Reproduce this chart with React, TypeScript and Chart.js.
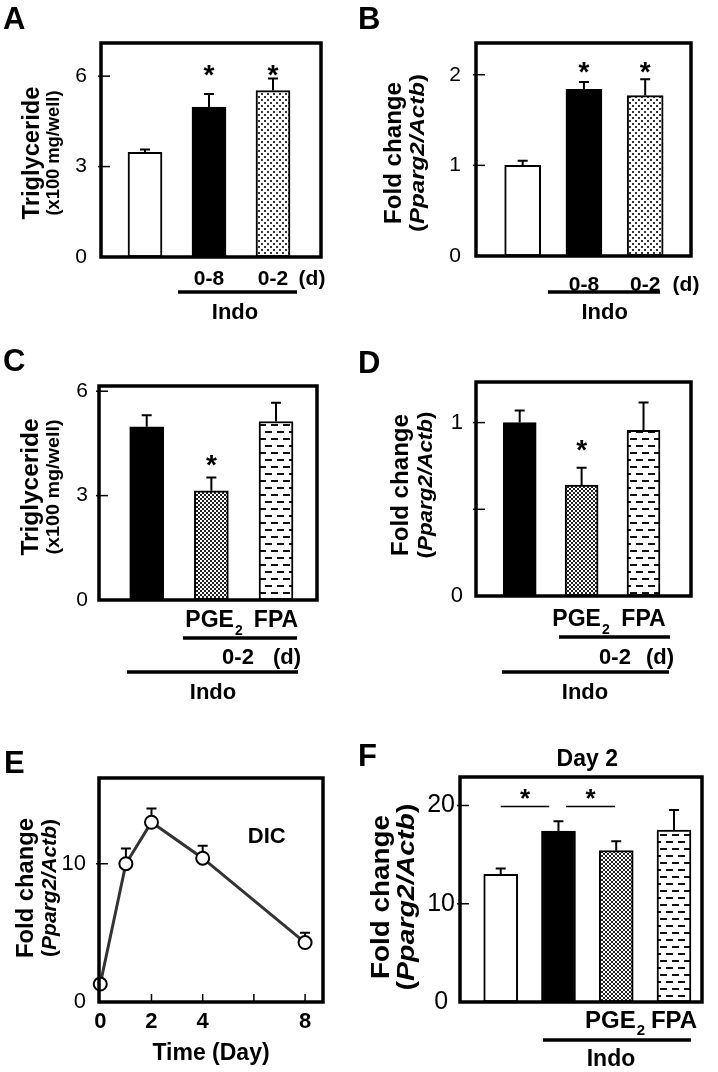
import React, { useEffect, useRef } from 'react';
import { Chart, registerables } from 'chart.js';

Chart.register(...registerables);

const FONT = "'Liberation Sans', Arial, Helvetica, sans-serif";

type Fill = 'white' | 'black' | 'dots' | 'checker' | 'dashes';

// ---------- Panel A: triglyceride, Indo 0-8 / 0-2 ----------
const catsA = ['', '0-8', '0-2'];
const valsA = [3.47, 4.97, 5.52];
const errsA = [0.1, 0.44, 0.4];
const starsA: (number | null)[] = [null, 6.27, 6.27];
const fillsA: Fill[] = ['white', 'black', 'dots'];
const yTicksA = [0, 3, 6];
const yLabelsA = ['0', '3', '6'];

// ---------- Panel B: Pparg2 fold change, Indo 0-8 / 0-2 ----------
const catsB = ['', '0-8', '0-2'];
const valsB = [1.0, 1.84, 1.77];
const errsB = [0.05, 0.08, 0.18];
const starsB: (number | null)[] = [null, 2.11, 2.11];
const fillsB: Fill[] = ['white', 'black', 'dots'];
const yTicksB = [0, 1, 2];
const yLabelsB = ['0', '1', '2'];

// ---------- Panel C: triglyceride, Indo + PGE2 / FPA ----------
const catsC = ['', '', 'FPA'];
const valsC = [4.98, 3.14, 5.13];
const errsC = [0.33, 0.38, 0.54];
const starsC: (number | null)[] = [null, 4.08, null];
const fillsC: Fill[] = ['black', 'checker', 'dashes'];
const yTicksC = [0, 3, 6];
const yLabelsC = ['0', '3', '6'];

// ---------- Panel D: Pparg2 fold change, Indo + PGE2 / FPA ----------
const catsD = ['', '', 'FPA'];
const valsD = [1.0, 0.64, 0.956];
const errsD = [0.07, 0.1, 0.16];
const starsD: (number | null)[] = [null, 0.88, null];
const fillsD: Fill[] = ['black', 'checker', 'dashes'];
const yTicksD = [0, 0.5, 1];
const yLabelsD = ['0', '', '1'];

// ---------- Panel E: DIC time course ----------
const daysE = [0, 1, 2, 4, 8];
const valsE = [1.3, 10.0, 13.0, 10.4, 4.3];
const errsE = [0, 1.1, 1.0, 0.9, 0.7];
const xTicksE = [0, 2, 4, 6, 8];
const xLabelsE = ['0', '2', '4', '', '8'];
const yTicksE = [0, 10];
const yLabelsE = ['0', '10'];

// ---------- Panel F: Day 2 ----------
const catsF = ['', '', '', 'FPA'];
const valsF = [13.0, 17.4, 15.4, 17.5];
const errsF = [0.6, 1.0, 0.95, 2.05];
const fillsF: Fill[] = ['white', 'black', 'checker', 'dashes'];
const yTicksF = [0, 10, 20];
const yLabelsF = ['0', '10', '20'];
const bracketsF = [
  { from: 0, to: 0.84, y: 19.9, star: 21.4 },
  { from: 1.13, to: 1.98, y: 19.9, star: 21.4 },
];

type Seg = { t: string; it?: boolean };
type TextItem = { t: string; x: number; y: number; size: number; sub?: string };
type LineItem = { x1: number; x2: number; y: number; w: number };
type YTitle = { l1: Seg[]; l2: Seg[]; x1: number; x2: number; cy: number; s1: number; s2: number; len1: number; len2: number };

interface Panel {
  kind: 'bar' | 'line';
  letter: string; letterX: number; letterY: number;
  ox: number; oy: number; w: number; h: number;
  L: number; T: number; R: number; B: number;
  xs: number[]; vals: number[]; errs: number[];
  xTicks: number[]; xLabels: string[];
  xMin: number; xMax: number; yMax: number;
  yTicks: number[]; yLabels: string[];
  fills?: Fill[]; barWidth?: number;
  stars?: (number | null)[]; starSize?: number;
  brackets?: { from: number; to: number; y: number; star: number }[];
  yFont: number; yPad: number; yCross: 'near' | 'center';
  xFont: number; xPad: number;
  xInward?: boolean;
  title: YTitle;
  texts: TextItem[]; lines: LineItem[];
  xTitle?: { text: string; size: number; pad: number };
}

const trig1: Seg[] = [{ t: 'Triglyceride' }];
const trig2: Seg[] = [{ t: '(x100 mg/well)' }];
const fold1: Seg[] = [{ t: 'Fold change' }];
const fold2: Seg[] = [{ t: '(' }, { t: 'Pparg2/Actb', it: true }, { t: ')' }];

const idx = (a: unknown[]) => a.map((_, i) => i);

const panels: Panel[] = [
  {
    kind: 'bar', letter: 'A', letterX: 3, letterY: 29,
    ox: 0, oy: 0, w: 359, h: 330, L: 101, T: 43, R: 321, B: 257,
    xs: idx(catsA), vals: valsA, errs: errsA, xTicks: idx(catsA), xLabels: catsA,
    xMin: -0.6875, xMax: 2.75, yMax: 7.1, yTicks: yTicksA, yLabels: yLabelsA,
    fills: fillsA, barWidth: 34, stars: starsA, starSize: 28,
    yFont: 21, yPad: 14, yCross: 'near', xFont: 21, xPad: 9.5,
    title: { l1: trig1, l2: trig2, x1: 33, x2: 54, cy: 153, s1: 23, s2: 19, len1: 133, len2: 125 },
    texts: [{ t: '(d)', x: 312, y: 279, size: 21 }, { t: 'Indo', x: 235, y: 313, size: 22 }],
    lines: [{ x1: 178, x2: 297, y: 292, w: 3.5 }],
  },
  {
    kind: 'bar', letter: 'B', letterX: 358, letterY: 29,
    ox: 359, oy: 0, w: 359, h: 330, L: 476, T: 43, R: 691, B: 256,
    xs: idx(catsB), vals: valsB, errs: errsB, xTicks: idx(catsB), xLabels: catsB,
    xMin: -0.762, xMax: 2.748, yMax: 2.35, yTicks: yTicksB, yLabels: yLabelsB,
    fills: fillsB, barWidth: 36, stars: starsB, starSize: 28,
    yFont: 21, yPad: 15, yCross: 'near', xFont: 21, xPad: 16.5,
    title: { l1: fold1, l2: fold2, x1: 395, x2: 418, cy: 153, s1: 23, s2: 21, len1: 142, len2: 158 },
    texts: [{ t: '(d)', x: 686, y: 285, size: 21 }, { t: 'Indo', x: 604.7, y: 313, size: 22 }],
    lines: [{ x1: 548, x2: 660, y: 292, w: 3.5 }],
  },
  {
    kind: 'bar', letter: 'C', letterX: 3, letterY: 371,
    ox: 0, oy: 330, w: 359, h: 375, L: 99, T: 386, R: 317, B: 600,
    xs: idx(catsC), vals: valsC, errs: errsC, xTicks: idx(catsC), xLabels: catsC,
    xMin: -0.738, xMax: 2.634, yMax: 6.15, yTicks: yTicksC, yLabels: yLabelsC,
    fills: fillsC, barWidth: 34, stars: starsC, starSize: 28,
    yFont: 21, yPad: 11, yCross: 'near', xFont: 23, xPad: 7.2,
    title: { l1: trig1, l2: trig2, x1: 32, x2: 54, cy: 487, s1: 23, s2: 19, len1: 137, len2: 135 },
    texts: [
      { t: 'PGE', sub: '2', x: 214, y: 621, size: 23 },
      { t: '0-2', x: 238, y: 658, size: 22 }, { t: '(d)', x: 287, y: 658, size: 22 },
      { t: 'Indo', x: 213, y: 693, size: 22 },
    ],
    lines: [{ x1: 183, x2: 297, y: 638, w: 3.5 }, { x1: 127, x2: 298, y: 672, w: 3.5 }],
  },
  {
    kind: 'bar', letter: 'D', letterX: 358, letterY: 373,
    ox: 359, oy: 330, w: 359, h: 375, L: 476, T: 382, R: 691, B: 596,
    xs: idx(catsD), vals: valsD, errs: errsD, xTicks: idx(catsD), xLabels: catsD,
    xMin: -0.706, xMax: 2.767, yMax: 1.234, yTicks: yTicksD, yLabels: yLabelsD,
    fills: fillsD, barWidth: 33, stars: starsD, starSize: 28,
    yFont: 22, yPad: 13, yCross: 'near', xFont: 23, xPad: 10.2,
    title: { l1: fold1, l2: fold2, x1: 402, x2: 426, cy: 485, s1: 23, s2: 21, len1: 142, len2: 147 },
    texts: [
      { t: 'PGE', sub: '2', x: 581, y: 620, size: 23 },
      { t: '0-2', x: 615, y: 658, size: 22 }, { t: '(d)', x: 660, y: 658, size: 22 },
      { t: 'Indo', x: 585, y: 693, size: 22 },
    ],
    lines: [{ x1: 559, x2: 670, y: 637, w: 3.5 }, { x1: 502, x2: 669, y: 672, w: 3.5 }],
  },
  {
    kind: 'line', letter: 'E', letterX: 4, letterY: 773,
    ox: 0, oy: 705, w: 359, h: 367, L: 99, T: 778, R: 323, B: 1002,
    xs: daysE, vals: valsE, errs: errsE, xTicks: xTicksE, xLabels: xLabelsE,
    xMin: -0.05, xMax: 8.7, yMax: 16.2, yTicks: yTicksE, yLabels: yLabelsE,
    yFont: 22, yPad: 13, yCross: 'near', xFont: 22, xPad: 6.5, xInward: true,
    title: { l1: fold1, l2: fold2, x1: 27, x2: 50, cy: 888, s1: 23, s2: 21, len1: 140, len2: 138 },
    texts: [{ t: 'DIC', x: 266.7, y: 836.7, size: 22 }],
    lines: [],
    xTitle: { text: 'Time (Day)', size: 23, pad: 5 },
  },
  {
    kind: 'bar', letter: 'F', letterX: 358, letterY: 766,
    ox: 359, oy: 705, w: 359, h: 367, L: 460, T: 777, R: 702, B: 1002,
    xs: idx(catsF), vals: valsF, errs: errsF, xTicks: idx(catsF), xLabels: catsF,
    xMin: -0.705, xMax: 3.485, yMax: 22.9, yTicks: yTicksF, yLabels: yLabelsF,
    fills: fillsF, barWidth: 34, brackets: bracketsF, starSize: 26,
    yFont: 25, yPad: 5, yCross: 'center', xFont: 24, xPad: 4.6,
    title: { l1: fold1, l2: fold2, x1: 382, x2: 408, cy: 897, s1: 26, s2: 23, len1: 164, len2: 187 },
    texts: [
      { t: 'Day 2', x: 587.3, y: 760, size: 23 },
      { t: 'PGE', sub: '2', x: 615, y: 1021, size: 24 },
      { t: 'Indo', x: 611, y: 1060, size: 23 },
    ],
    lines: [{ x1: 543, x2: 691, y: 1040, w: 3.5 }],
  },
];

function makePattern(w: number, h: number, draw: (g: CanvasRenderingContext2D) => void): CanvasPattern {
  const c = document.createElement('canvas');
  c.width = w;
  c.height = h;
  const g = c.getContext('2d')!;
  g.fillStyle = '#fff';
  g.fillRect(0, 0, w, h);
  draw(g);
  return g.createPattern(c, 'repeat')!;
}

let patternCache: Record<string, CanvasPattern> | null = null;
function fillOf(f: Fill): string | CanvasPattern {
  if (f === 'white') return '#ffffff';
  if (f === 'black') return '#000000';
  if (!patternCache) {
    patternCache = {
      dots: makePattern(6, 6, (g) => {
        g.fillStyle = '#333';
        g.fillRect(0, 0, 2, 2);
        g.fillRect(3, 3, 2, 2);
      }),
      checker: makePattern(4, 4, (g) => {
        g.fillStyle = '#222';
        g.fillRect(0, 0, 2, 2);
        g.fillRect(2, 2, 2, 2);
      }),
      dashes: makePattern(12, 14, (g) => {
        g.fillStyle = '#111';
        g.fillRect(1, 3, 7, 2);
        g.fillRect(7, 10, 5, 2);
        g.fillRect(0, 10, 2, 2);
      }),
    };
  }
  return patternCache[f];
}

function drawRotTitle(ctx: CanvasRenderingContext2D, segs: Seg[], cx: number, cy: number, size: number, len: number) {
  ctx.save();
  ctx.translate(cx, cy);
  ctx.rotate(-Math.PI / 2);
  const fonts = segs.map((s) => `${s.it ? 'italic ' : ''}bold ${size}px ${FONT}`);
  const widths = segs.map((s, i) => {
    ctx.font = fonts[i];
    return ctx.measureText(s.t).width;
  });
  const total = widths.reduce((a, b) => a + b, 0);
  ctx.scale(len / total, 1);
  ctx.fillStyle = '#000';
  ctx.textBaseline = 'middle';
  ctx.textAlign = 'left';
  let x = -total / 2;
  segs.forEach((s, i) => {
    ctx.font = fonts[i];
    ctx.fillText(s.t, x, 0);
    x += widths[i];
  });
  ctx.restore();
}

function drawText(ctx: CanvasRenderingContext2D, t: TextItem, ox: number, oy: number) {
  ctx.textBaseline = 'middle';
  ctx.textAlign = 'left';
  const mainFont = `bold ${t.size}px ${FONT}`;
  const subSize = Math.round(t.size * 0.62);
  const subFont = `bold ${subSize}px ${FONT}`;
  ctx.font = mainFont;
  const w1 = ctx.measureText(t.t).width;
  let w2 = 0;
  if (t.sub) {
    ctx.font = subFont;
    w2 = ctx.measureText(t.sub).width + 1;
  }
  const x0 = t.x - ox - (w1 + w2) / 2;
  ctx.font = mainFont;
  ctx.fillText(t.t, x0, t.y - oy);
  if (t.sub) {
    ctx.font = subFont;
    ctx.fillText(t.sub, x0 + w1 + 1, t.y - oy + t.size * 0.42);
  }
}

function decorPlugin(p: Panel) {
  return {
    id: 'decor' + p.letter,
    beforeDatasetsDraw(chart: Chart) {
      const ctx = chart.ctx;
      const ys = chart.scales.y;
      const meta = chart.getDatasetMeta(0);
      ctx.save();
      ctx.strokeStyle = '#000';
      ctx.lineWidth = 2;
      meta.data.forEach((el: any, i: number) => {
        const e = p.errs[i];
        if (!e) return;
        const base = ys.getPixelForValue(p.vals[i]);
        const top = ys.getPixelForValue(p.vals[i] + e);
        ctx.beginPath();
        ctx.moveTo(el.x, base);
        ctx.lineTo(el.x, top);
        ctx.moveTo(el.x - 5, top);
        ctx.lineTo(el.x + 5, top);
        ctx.stroke();
      });
      ctx.restore();
    },
    afterDraw(chart: Chart) {
      const ctx = chart.ctx;
      const xs = chart.scales.x;
      const ys = chart.scales.y;
      const a = chart.chartArea;
      const ox = p.ox;
      const oy = p.oy;
      ctx.save();
      ctx.strokeStyle = '#000';
      ctx.fillStyle = '#000';
      ctx.lineWidth = 3.5;
      ctx.strokeRect(a.left, a.top, a.right - a.left, a.bottom - a.top);
      ctx.lineWidth = 1.5;
      p.yTicks.forEach((v) => {
        if (v === 0) return;
        const y = ys.getPixelForValue(v);
        ctx.beginPath();
        ctx.moveTo(a.left - 3, y);
        ctx.lineTo(a.left + 9, y);
        ctx.stroke();
      });
      if (p.xInward) {
        p.xTicks.forEach((v) => {
          if (v === 0) return;
          const x = xs.getPixelForValue(v);
          ctx.beginPath();
          ctx.moveTo(x, a.bottom);
          ctx.lineTo(x, a.bottom - 8);
          ctx.stroke();
        });
      }
      const meta = chart.getDatasetMeta(0);
      if (p.stars) {
        const sz = p.starSize || 26;
        ctx.font = `bold ${sz}px ${FONT}`;
        ctx.textAlign = 'center';
        ctx.textBaseline = 'alphabetic';
        p.stars.forEach((s, i) => {
          if (s == null) return;
          const el: any = meta.data[i];
          ctx.fillText('*', el.x, ys.getPixelForValue(s) + sz * 0.57);
        });
      }
      if (p.brackets) {
        const sz = p.starSize || 24;
        p.brackets.forEach((b) => {
          const x1 = xs.getPixelForValue(b.from);
          const x2 = xs.getPixelForValue(b.to);
          const y = ys.getPixelForValue(b.y);
          ctx.lineWidth = 1.5;
          ctx.beginPath();
          ctx.moveTo(x1, y);
          ctx.lineTo(x2, y);
          ctx.stroke();
          ctx.font = `bold ${sz}px ${FONT}`;
          ctx.textAlign = 'center';
          ctx.textBaseline = 'alphabetic';
          ctx.fillText('*', (x1 + x2) / 2, ys.getPixelForValue(b.star) + sz * 0.57);
        });
      }
      p.texts.forEach((t) => drawText(ctx, t, ox, oy));
      p.lines.forEach((l) => {
        ctx.lineWidth = l.w;
        ctx.beginPath();
        ctx.moveTo(l.x1 - ox, l.y - oy);
        ctx.lineTo(l.x2 - ox, l.y - oy);
        ctx.stroke();
      });
      const tt = p.title;
      drawRotTitle(ctx, tt.l1, tt.x1 - ox, tt.cy - oy, tt.s1, tt.len1);
      drawRotTitle(ctx, tt.l2, tt.x2 - ox, tt.cy - oy, tt.s2, tt.len2);
      ctx.font = `bold 31px ${FONT}`;
      ctx.textAlign = 'left';
      ctx.textBaseline = 'alphabetic';
      ctx.fillText(p.letter, p.letterX - ox, p.letterY - oy);
      ctx.restore();
    },
  };
}

function buildConfig(p: Panel): any {
  const dataPts = p.xs.map((x, i) => ({ x, y: p.vals[i] }));
  const dataset: any =
    p.kind === 'bar'
      ? {
          data: dataPts,
          backgroundColor: (p.fills || []).map(fillOf),
          borderColor: '#000',
          borderWidth: 2,
          borderSkipped: false,
          barThickness: p.barWidth,
        }
      : {
          data: dataPts,
          borderColor: '#333',
          borderWidth: 3,
          pointRadius: 6.5,
          pointBackgroundColor: '#fff',
          pointBorderColor: '#000',
          pointBorderWidth: 2,
          tension: 0,
          clip: false,
        };
  return {
    type: p.kind,
    data: { datasets: [dataset] },
    plugins: [decorPlugin(p)],
    options: {
      responsive: false,
      animation: false,
      devicePixelRatio: 1,
      layout: { padding: { left: 0, top: p.T - p.oy, right: p.ox + p.w - p.R, bottom: 0 } },
      plugins: { legend: { display: false }, tooltip: { enabled: false } },
      scales: {
        x: {
          type: 'linear',
          offset: false,
          min: p.xMin,
          max: p.xMax,
          grid: { display: false, drawTicks: false, offset: false },
          border: { display: false },
          afterBuildTicks: (s: any) => {
            s.ticks = p.xTicks.map((v) => ({ value: v }));
          },
          afterFit: (s: any) => {
            s.height = p.oy + p.h - p.B;
          },
          ticks: {
            callback: (_v: any, i: number) => p.xLabels[i],
            font: { family: FONT, size: p.xFont, weight: 'bold' },
            color: '#000',
            padding: p.xPad,
            autoSkip: false,
            maxRotation: 0,
            minRotation: 0,
          },
          title: p.xTitle
            ? {
                display: true,
                text: p.xTitle.text,
                color: '#000',
                font: { family: FONT, size: p.xTitle.size, weight: 'bold' },
                padding: { top: 0, bottom: p.xTitle.pad },
              }
            : { display: false },
        },
        y: {
          type: 'linear',
          min: 0,
          max: p.yMax,
          grid: { display: false, drawTicks: false },
          border: { display: false },
          afterBuildTicks: (s: any) => {
            s.ticks = p.yTicks.map((v) => ({ value: v }));
          },
          afterFit: (s: any) => {
            s.width = p.L - p.ox;
          },
          ticks: {
            callback: (_v: any, i: number) => p.yLabels[i],
            font: { family: FONT, size: p.yFont },
            color: '#000',
            padding: p.yPad,
            crossAlign: p.yCross,
            autoSkip: false,
          },
        },
      },
    },
  };
}

function PanelChart({ p }: { p: Panel }) {
  const ref = useRef<HTMLCanvasElement>(null);
  useEffect(() => {
    if (!ref.current) return;
    const chart = new Chart(ref.current, buildConfig(p));
    return () => chart.destroy();
  }, [p]);
  return (
    <canvas
      ref={ref}
      width={p.w}
      height={p.h}
      style={{ position: 'absolute', left: p.ox, top: p.oy, width: p.w, height: p.h }}
    />
  );
}

export default function App() {
  return (
    <div style={{ position: 'absolute', left: 0, top: 0, width: 718, height: 1072, background: '#fff', overflow: 'hidden' }}>
      {panels.map((p) => (
        <PanelChart key={p.letter} p={p} />
      ))}
    </div>
  );
}
